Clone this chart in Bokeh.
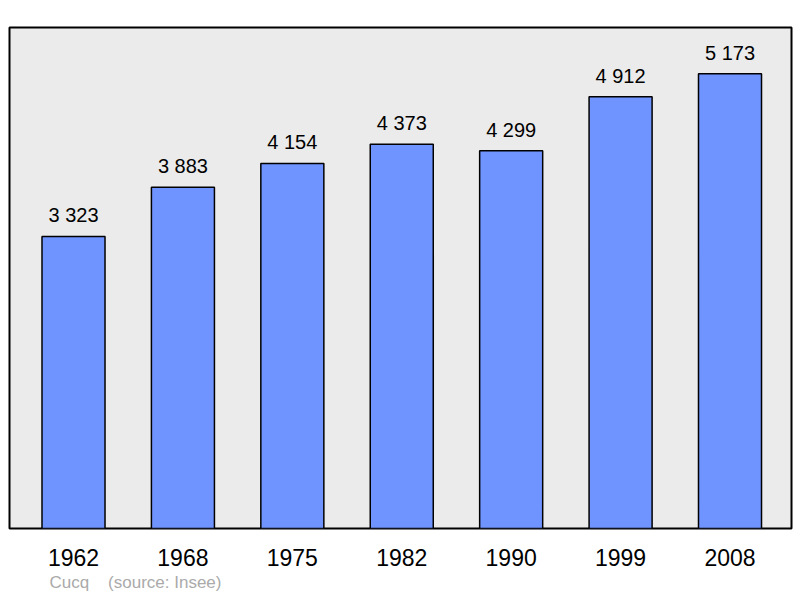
from bokeh.plotting import figure
from bokeh.models import FixedTicker, Title, ColumnDataSource, Range1d
from bokeh.embed import file_html
from bokeh.resources import INLINE

years = ["1962", "1968", "1975", "1982", "1990", "1999", "2008"]
population = [3323, 3883, 4154, 4373, 4299, 4912, 5173]
town = "Cucq"
source_note = "(source: Insee)"

xs = list(range(len(years)))
labels = [f"{v:,}".replace(",", " ") for v in population]
src = ColumnDataSource(dict(x=xs, top=population, label=labels))

FONT = "Liberation Sans"

p = figure(width=800, height=598, output_backend="svg", toolbar_location=None,
           x_range=Range1d(-0.585, 6.562), y_range=Range1d(0, 5700),
           y_axis_location=None, min_border_left=9, min_border_right=9,
           min_border_top=27, min_border_bottom=70)
p.background_fill_color = "#ebebeb"
p.border_fill_color = "white"
p.outline_line_color = "black"
p.outline_line_width = 2
p.grid.visible = False

p.vbar(x="x", top="top", bottom=0, width=0.576, source=src,
       fill_color="#7094ff", line_color="black", line_width=1.5)
p.text(x="x", y="top", text="label", source=src, y_offset=-21,
       text_align="center", text_baseline="alphabetic",
       text_font_size="20px", text_color="black", text_font={"value": FONT})

ax = p.xaxis[0]
ax.ticker = FixedTicker(ticks=xs)
ax.major_label_overrides = {i: y for i, y in zip(xs, years)}
ax.axis_line_color = None
ax.major_tick_line_color = None
ax.minor_tick_line_color = None
ax.major_tick_out = 0
ax.major_tick_in = 0
ax.major_label_standoff = 20
ax.major_label_text_font_size = "23px"
ax.major_label_text_font = FONT
ax.major_label_text_color = "black"

note = town + "\u00a0\u00a0\u00a0\u00a0" + source_note
p.add_layout(Title(text=note, align="left", offset=40, standoff=4,
                   text_font_size="17px", text_color="#aaaaaa", text_font=FONT,
                   text_font_style="normal"), "below")

open("out.html", "w").write(file_html(p, INLINE))
